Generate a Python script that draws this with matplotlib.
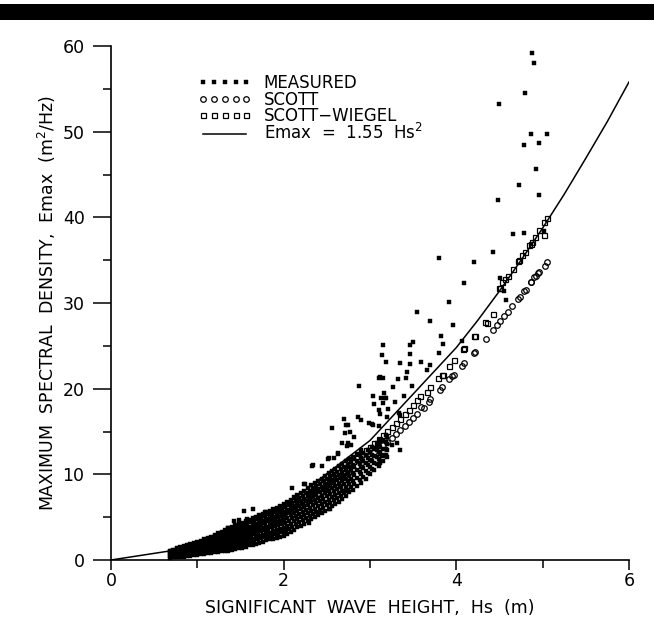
import matplotlib
matplotlib.use("Agg")
import matplotlib.pyplot as plt
from matplotlib.patches import Rectangle

# ---------------- data ----------------
LINE_HS = [0, 1, 2, 3, 4, 4.25, 4.5, 4.75, 5, 5.25, 5.5, 5.75, 6]
LINE_E = [0, 1.55, 6.2, 13.95, 24.8, 28.0, 31.4, 35.0, 38.75, 42.7, 46.9, 51.2, 55.8]

# dense band of measured points: Hs rows and the Emax values seen at each
BAND_HS = [0.68, 0.72, 0.76, 0.80, 0.84, 0.88, 0.92, 0.96, 1.00, 1.04, 1.08, 1.12,
           1.16, 1.20, 1.24, 1.28, 1.32, 1.36, 1.40, 1.44, 1.48, 1.52, 1.56, 1.60,
           1.64, 1.68, 1.72, 1.76, 1.80, 1.84, 1.88, 1.92, 1.96, 2.00, 2.04, 2.08,
           2.12, 2.16, 2.20, 2.24, 2.28, 2.32, 2.36, 2.40, 2.44, 2.48, 2.52, 2.56,
           2.60, 2.64, 2.68, 2.72, 2.76, 2.80, 2.85, 2.90, 2.95, 3.00, 3.05, 3.10,
           3.15, 3.20]
BAND_E = [
    [0.25, 0.45, 0.7, 0.9, 1.1], [0.3, 0.5, 0.75, 1.0, 1.2], [0.3, 0.55, 0.8, 1.1, 1.35],
    [0.35, 0.65, 0.9, 1.2, 1.5], [0.4, 0.7, 1.0, 1.3, 1.6], [0.45, 0.75, 1.1, 1.4, 1.75],
    [0.5, 0.8, 1.15, 1.5, 1.85], [0.55, 0.9, 1.25, 1.6, 1.95], [0.6, 0.95, 1.35, 1.7, 2.1],
    [0.7, 1.05, 1.45, 1.85, 2.25], [0.75, 1.15, 1.55, 1.95, 2.4], [0.8, 1.2, 1.65, 2.1, 2.55],
    [0.85, 1.3, 1.75, 2.2, 2.7], [0.9, 1.4, 1.9, 2.4, 2.9], [0.95, 1.45, 2.0, 2.55, 3.1],
    [1.0, 1.55, 2.1, 2.7, 3.3], [1.05, 1.6, 2.2, 2.85, 3.5], [1.1, 1.7, 2.35, 3.0, 3.7],
    [1.15, 1.8, 2.5, 3.2, 3.9], [1.25, 1.9, 2.6, 3.3, 4.05], [1.35, 2.0, 2.75, 3.5, 4.2],
    [1.45, 2.1, 2.85, 3.6, 4.35], [1.55, 2.25, 3.0, 3.75, 4.5], [1.7, 2.4, 3.15, 3.9, 4.7],
    [1.8, 2.5, 3.3, 4.05, 4.85], [1.9, 2.65, 3.45, 4.2, 5.0], [2.0, 2.8, 3.6, 4.4, 5.2],
    [2.15, 2.95, 3.75, 4.55, 5.35], [2.3, 3.1, 3.9, 4.75, 5.55], [2.4, 3.2, 4.05, 4.9, 5.75],
    [2.5, 3.35, 4.2, 5.05, 5.9], [2.6, 3.5, 4.4, 5.25, 6.1], [2.7, 3.6, 4.55, 5.45, 6.3],
    [2.8, 3.75, 4.7, 5.6, 6.5], [3.0, 4.0, 4.95, 5.85, 6.8], [3.3, 4.25, 5.2, 6.1, 7.0],
    [3.5, 4.5, 5.45, 6.35, 7.3], [3.8, 4.75, 5.7, 6.6, 7.55], [4.0, 5.0, 5.95, 6.85, 7.8],
    [4.25, 5.25, 6.2, 7.15, 8.1], [4.5, 5.5, 6.45, 7.45, 8.45], [4.75, 5.75, 6.75, 7.75, 8.75],
    [5.0, 6.0, 7.0, 8.0, 9.0], [5.2, 6.25, 7.25, 8.25, 9.2], [5.45, 6.5, 7.5, 8.5, 9.5],
    [5.7, 6.75, 7.8, 8.8, 9.85], [6.0, 7.05, 8.1, 9.1, 10.1], [6.25, 7.3, 8.35, 9.35, 10.4],
    [6.5, 7.6, 8.6, 9.65, 10.65], [6.8, 7.85, 8.9, 9.95, 10.95], [7.1, 8.1, 9.2, 10.2, 11.2],
    [7.5, 8.5, 9.5, 10.5, 11.5], [7.9, 8.85, 9.8, 10.8, 11.8], [8.2, 9.2, 10.15, 11.1, 12.0],
    [8.6, 9.6, 10.5, 11.5, 12.4], [9.0, 10.0, 10.9, 11.9, 12.8], [9.5, 10.4, 11.3, 12.2],
    [10.0, 10.9, 11.7, 12.6], [10.5, 11.3, 12.1, 13.0], [11.0, 11.8, 12.6, 13.4],
    [11.5, 12.3, 13.0, 13.9], [12.0, 12.8, 13.5, 14.3],
]
BAND2_HS = [0.70, 0.74, 0.78, 0.82, 0.86, 0.90, 0.94, 0.98, 1.02, 1.06, 1.10, 1.14,
            1.18, 1.22, 1.26, 1.30, 1.34, 1.38, 1.42, 1.46, 1.50, 1.54, 1.58, 1.62,
            1.66, 1.70, 1.74, 1.78, 1.82, 1.86, 1.90, 1.94, 1.98, 2.02, 2.06, 2.10,
            2.14, 2.18, 2.22, 2.26, 2.30, 2.34, 2.38, 2.42, 2.46, 2.50, 2.54, 2.58,
            2.62, 2.66, 2.70, 2.74, 2.78, 2.82, 2.88, 2.92, 2.98, 3.02, 3.08, 3.12, 3.18]
BAND2_E = [
    [0.36, 0.6, 0.84, 1.05], [0.4, 0.64, 0.9, 1.15], [0.45, 0.72, 1.0, 1.28],
    [0.52, 0.8, 1.1, 1.4], [0.58, 0.9, 1.2, 1.52], [0.62, 0.95, 1.3, 1.65],
    [0.68, 1.02, 1.38, 1.75], [0.75, 1.1, 1.48, 1.85], [0.82, 1.2, 1.6, 2.0],
    [0.9, 1.3, 1.7, 2.12], [0.95, 1.38, 1.8, 2.25], [1.0, 1.45, 1.9, 2.4],
    [1.1, 1.58, 2.05, 2.55], [1.18, 1.7, 2.2, 2.75], [1.25, 1.8, 2.35, 2.9],
    [1.3, 1.88, 2.48, 3.1], [1.38, 2.0, 2.6, 3.25], [1.45, 2.1, 2.75, 3.45],
    [1.52, 2.2, 2.9, 3.6], [1.62, 2.3, 3.05, 3.75], [1.72, 2.42, 3.18, 3.9],
    [1.85, 2.55, 3.3, 4.05], [1.98, 2.7, 3.45, 4.25], [2.1, 2.85, 3.6, 4.4],
    [2.22, 3.0, 3.75, 4.55], [2.4, 3.2, 4.0, 4.8], [2.55, 3.35, 4.15, 4.95],
    [2.7, 3.5, 4.35, 5.15], [2.8, 3.65, 4.5, 5.35], [2.95, 3.8, 4.65, 5.5],
    [3.05, 3.95, 4.82, 5.7], [3.15, 4.05, 5.0, 5.9], [3.25, 4.2, 5.1, 6.05],
    [3.4, 4.35, 5.3, 6.2], [3.65, 4.6, 5.55, 6.45], [3.9, 4.85, 5.8, 6.7],
    [4.15, 5.1, 6.05, 6.95], [4.4, 5.35, 6.3, 7.2], [4.62, 5.6, 6.55, 7.5],
    [4.9, 5.85, 6.85, 7.8], [5.12, 6.1, 7.1, 8.1], [5.38, 6.4, 7.4, 8.4],
    [5.62, 6.62, 7.62, 8.6], [5.85, 6.88, 7.88, 8.9], [6.1, 7.15, 8.15, 9.2],
    [6.4, 7.45, 8.45, 9.5], [6.65, 7.7, 8.7, 9.75], [6.95, 8.0, 9.0, 10.0],
    [7.2, 8.25, 9.3, 10.3], [7.5, 8.55, 9.55, 10.6], [7.8, 8.85, 9.85, 10.85],
    [8.2, 9.2, 10.15, 11.15], [8.55, 9.5, 10.5, 11.45], [8.9, 9.9, 10.8, 11.8],
    [9.3, 10.3, 11.2, 12.2], [9.7, 10.7, 11.6, 12.5], [10.2, 11.1, 11.9, 12.8],
    [10.6, 11.5, 12.3, 13.2], [11.2, 12.0, 12.8, 13.6], [11.6, 12.4, 13.2, 14.0],
    [12.2, 13.0, 13.8, 14.6],
]

# scattered measured points
SCAT_HS = [4.88, 4.905, 4.79, 4.49, 4.86, 5.05, 4.78, 4.96, 4.92, 4.73, 4.96, 4.48, 4.66, 4.78, 5.02,
           3.80, 4.42, 4.21, 4.09, 3.92, 3.55, 3.70, 3.96, 3.82, 3.85, 4.06, 3.80, 4.57, 4.50, 4.55,
           3.15, 3.14, 3.19, 3.50, 3.46, 3.46, 3.35, 3.46, 3.59, 3.69, 3.66, 3.43, 3.42, 3.33, 3.15,
           3.27, 3.49, 3.16, 3.39, 3.19, 3.29, 3.15, 2.87, 3.12, 3.10, 3.03, 3.13, 3.17, 3.05, 3.10,
           3.12, 3.20, 3.35, 2.99, 3.02, 2.86, 2.70, 2.75, 2.89, 2.56, 2.71, 2.77, 2.81, 2.68, 2.73,
           2.78, 2.63, 2.58, 2.33, 3.31, 3.26, 3.35, 3.14, 3.12, 3.19, 3.08, 3.34, 3.04, 3.11, 3.21,
           2.34, 2.51, 2.10, 2.25, 1.54, 1.65, 1.42, 1.48, 1.57, 1.78, 1.07, 1.19, 1.36, 2.44, 2.52,
           2.72, 2.75, 2.65, 2.71, 2.29, 2.42, 2.54, 2.03, 2.00, 1.92, 1.82, 2.24, 2.63]
SCAT_E = [59.2, 58.0, 54.5, 53.2, 49.7, 49.7, 48.5, 48.7, 45.6, 43.8, 42.6, 42.0, 38.0, 38.2, 38.4,
          35.3, 35.9, 34.8, 32.3, 30.1, 29.0, 27.9, 27.4, 26.1, 25.2, 25.6, 24.2, 30.3, 32.9, 31.4,
          25.1, 23.9, 23.1, 25.4, 25.1, 24.1, 23.0, 22.9, 23.1, 22.8, 22.2, 22.0, 21.3, 21.1, 21.2,
          20.2, 20.3, 19.5, 19.1, 18.9, 18.5, 18.3, 20.3, 21.4, 21.2, 19.1, 18.9, 18.9, 18.2, 17.5,
          17.1, 16.7, 16.9, 16.0, 15.9, 16.7, 16.5, 15.8, 16.3, 15.4, 14.8, 15.0, 14.4, 13.7, 13.3,
          13.4, 12.5, 11.9, 11.0, 13.7, 13.4, 12.8, 12.1, 11.3, 12.1, 13.2, 17.2, 15.8, 15.6, 17.6,
          11.1, 11.8, 8.4, 8.9, 5.75, 6.0, 4.55, 4.7, 4.8, 5.6, 2.1, 2.7, 3.7, 11.0, 11.9,
          15.8, 13.6, 8.6, 8.0, 4.3, 5.6, 6.0, 3.5, 3.3, 2.9, 2.7, 8.9, 12.4]

SCOTT_HS = [0.70, 0.75, 0.80, 0.85, 0.90, 0.95, 1.00, 1.05, 1.10, 1.15, 1.20, 1.25, 1.30, 1.35,
            1.40, 1.45, 1.50, 1.55, 1.60, 1.65, 1.70, 1.75, 1.80, 1.85, 1.90, 1.95, 2.00, 2.05,
            2.10, 2.15, 2.20, 2.25, 2.30, 2.35, 2.40, 2.45, 2.50, 2.55, 2.60, 2.65, 2.70, 2.75,
            2.80, 2.85, 2.90, 2.95, 3.00, 3.05, 3.10, 3.15, 3.20, 3.25, 3.30, 3.35, 3.40, 3.45,
            3.50, 3.55, 3.59, 3.62, 3.68, 3.70, 3.81, 3.83, 3.92, 3.95, 3.97, 4.06, 4.09, 4.21,
            4.22, 4.34, 4.42, 4.47, 4.51, 4.55, 4.60, 4.65, 4.72, 4.74, 4.78, 4.81, 4.86, 4.87,
            4.90, 4.92, 4.95, 4.96, 5.03, 5.05]
SCOTT_E = [0.66, 0.76, 0.86, 0.97, 1.09, 1.22, 1.35, 1.49, 1.63, 1.79, 1.94, 2.11, 2.28, 2.46,
           2.65, 2.84, 3.04, 3.24, 3.46, 3.68, 3.90, 4.13, 4.37, 4.62, 4.87, 5.13, 5.40, 5.67,
           5.95, 6.24, 6.53, 6.83, 7.14, 7.46, 7.78, 8.10, 8.44, 8.78, 9.13, 9.48, 9.84, 10.21,
           10.58, 10.97, 11.35, 11.75, 12.15, 12.56, 12.97, 13.40, 13.82, 14.26, 14.70, 15.15, 15.60, 16.07,
           16.54, 17.0, 17.9, 17.7, 18.4, 18.8, 19.8, 20.2, 21.1, 21.5, 21.6, 22.6, 23.0, 24.2,
           24.3, 25.8, 26.8, 27.4, 27.9, 28.5, 29.0, 29.6, 30.5, 30.7, 31.4, 31.5, 32.4, 32.5,
           33.0, 33.1, 33.5, 33.6, 34.3, 34.8]

SW_HS = [0.70, 0.75, 0.80, 0.85, 0.90, 0.95, 1.00, 1.05, 1.10, 1.15, 1.20, 1.25, 1.30, 1.35,
         1.40, 1.45, 1.50, 1.55, 1.60, 1.65, 1.70, 1.75, 1.80, 1.85, 1.90, 1.95, 2.00, 2.05,
         2.10, 2.15, 2.20, 2.25, 2.30, 2.35, 2.40, 2.45, 2.50, 2.55, 2.60, 2.65, 2.70, 2.75,
         2.80, 2.85, 2.90, 2.95, 3.00, 3.05, 3.10, 3.15, 3.20, 3.25, 3.30, 3.35, 3.40, 3.45,
         3.50, 3.54, 3.58, 3.66, 3.70, 3.79, 3.83, 3.85, 3.92, 3.97, 4.08, 4.09, 4.21, 4.22,
         4.33, 4.35, 4.42, 4.49, 4.51, 4.53, 4.56, 4.60, 4.66, 4.72, 4.73, 4.76, 4.79, 4.84,
         4.86, 4.88, 4.91, 4.96, 5.01, 5.02, 5.05]
SW_E = [0.72, 0.83, 0.94, 1.06, 1.19, 1.33, 1.47, 1.62, 1.78, 1.94, 2.12, 2.30, 2.48, 2.68,
        2.88, 3.09, 3.31, 3.53, 3.76, 4.00, 4.25, 4.50, 4.76, 5.03, 5.31, 5.59, 5.88, 6.18,
        6.48, 6.80, 7.11, 7.44, 7.78, 8.12, 8.47, 8.82, 9.19, 9.56, 9.94, 10.32, 10.72, 11.12,
        11.52, 11.94, 12.36, 12.79, 13.23, 13.67, 14.13, 14.59, 15.05, 15.53, 16.01, 16.50, 16.99, 17.50,
        18.10, 18.7, 19.1, 19.6, 20.2, 21.2, 21.6, 21.6, 22.6, 23.3, 24.6, 24.7, 26.1, 26.1,
        27.8, 27.7, 28.7, 31.7, 31.7, 32.4, 32.8, 33.2, 34.0, 34.9, 35.0, 35.6, 35.9, 36.8,
        36.9, 37.1, 37.7, 38.5, 37.9, 39.4, 39.9]

X_TICKS = [0, 2, 4, 6]
Y_TICKS = [0, 10, 20, 30, 40, 50, 60]

# ---------------- figure ----------------
plt.rcParams['font.family'] = ['DejaVu Sans']
FS = 12.5
fig = plt.figure(figsize=(6.54, 6.28), dpi=100)
fig.patches.append(Rectangle((0, 1 - 20 / 628), 1, 16 / 628, transform=fig.transFigure,
                             facecolor='black', edgecolor='none'))

ax = fig.add_axes([111 / 654, 68 / 628, 518 / 654, 514 / 628])

meas_x = []
meas_y = []
for hs_list, e_list in ((BAND_HS, BAND_E), (BAND2_HS, BAND2_E)):
    for h, row in zip(hs_list, e_list):
        for e in row:
            meas_x.append(h)
            meas_y.append(e)
meas_x += SCAT_HS
meas_y += SCAT_E

ax.plot(meas_x, meas_y, ls='none', marker='s', ms=2.5, mfc='black', mec='black', mew=0.3,
        label='MEASURED')
ax.plot(SCOTT_HS, SCOTT_E, ls='none', marker='o', ms=4.0, mfc='none', mec='black', mew=0.9,
        label='SCOTT')
ax.plot(SW_HS, SW_E, ls='none', marker='s', ms=3.6, mfc='none', mec='black', mew=0.9,
        label='SCOTT\u2212WIEGEL')
ax.plot(LINE_HS, LINE_E, color='black', lw=1.1, label='Emax  =  1.55  Hs$^{2}$')

ax.set_xlim(0, 6)
ax.set_ylim(0, 60)
for s in ['top', 'right']:
    ax.spines[s].set_visible(False)
for s in ['left', 'bottom']:
    ax.spines[s].set_linewidth(1.2)

ax.set_xticks(X_TICKS)
ax.set_xticks([1, 3, 5], minor=True)
ax.set_yticks(Y_TICKS)
ax.set_yticks([5, 15, 25, 35, 45, 55], minor=True)
ax.tick_params(which='major', direction='out', length=7, width=1.1, labelsize=FS, pad=2)
ax.tick_params(which='minor', direction='out', length=6, width=1.1)
ax.tick_params(axis='y', which='major', length=13, pad=6)

ax.set_xlabel('SIGNIFICANT  WAVE  HEIGHT,  Hs  (m)', fontsize=FS, labelpad=6)
ax.set_ylabel('MAXIMUM  SPECTRAL  DENSITY,  Emax  (m$^{2}$/Hz)', fontsize=FS, labelpad=3)

leg = ax.legend(loc='upper left', bbox_to_anchor=(0.168, 0.945), frameon=False, numpoints=5,
                handlelength=3.2, handletextpad=0.75, labelspacing=-0.1, fontsize=FS - 0.5,
                borderaxespad=0, borderpad=0)

fig.savefig('out.png', dpi=100)
